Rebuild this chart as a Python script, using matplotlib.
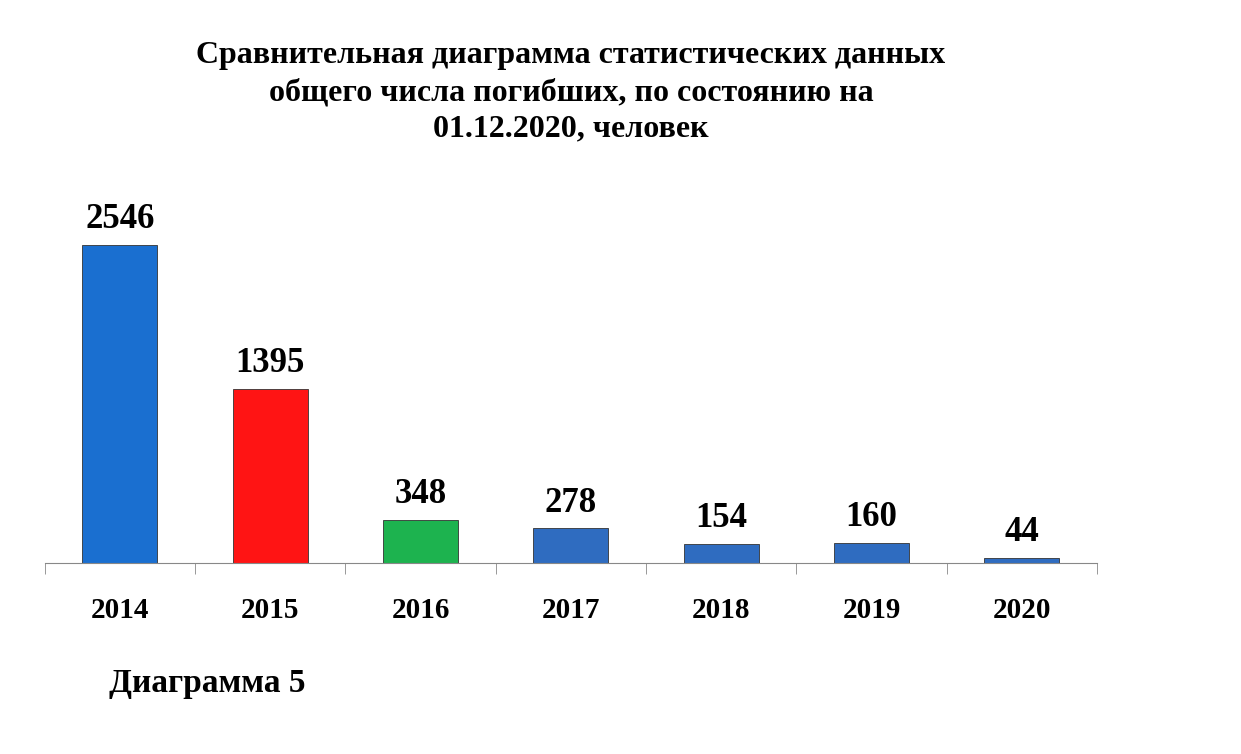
import matplotlib
matplotlib.use("Agg")
import matplotlib.pyplot as plt

# Данные диаграммы
years = ["2014", "2015", "2016", "2017", "2018", "2019", "2020"]
values = [2546, 1395, 348, 278, 154, 160, 44]
colors = ["#1a6fd0", "#ff1414", "#1db34f", "#2f6cc0", "#2f6cc0", "#2f6cc0", "#2f6cc0"]

plt.rcParams['font.family'] = ['Liberation Serif', 'DejaVu Serif']
plt.rcParams['font.weight'] = 'bold'

fig = plt.figure(figsize=(12.41, 7.54), dpi=100)
ax = fig.add_axes([0.036, 0.253, 0.848, 0.422])

x = list(range(len(years)))
ax.bar(x, values, width=0.5, color=colors, edgecolor="#333333", linewidth=0.6)

for xi, v in zip(x, values):
    ax.text(xi, v + 70, str(v), ha='center', va='bottom', fontsize=25,
            fontweight='bold', clip_on=False)

ax.set_xlim(-0.5, len(years) - 0.5)
ax.set_ylim(0, 2546)
ax.set_yticks([])
for s in ['top', 'right', 'left']:
    ax.spines[s].set_visible(False)
ax.spines['bottom'].set_color('#888888')

# подписи годов без засечек, засечки между категориями
ax.set_xticks(x)
ax.set_xticklabels(years, fontsize=21, fontweight='bold')
ax.tick_params(axis='x', length=0, pad=24)
ax.set_xticks([i - 0.5 for i in range(len(years) + 1)], minor=True)
ax.tick_params(axis='x', which='minor', length=8, color='#888888', direction='out')

fig.text(0.460, 0.945,
         "Сравнительная диаграмма статистических данных\n"
         "общего числа погибших, по состоянию на\n"
         "01.12.2020, человек",
         ha='center', va='top', fontsize=23, fontweight='bold', linespacing=1.35)

fig.text(0.088, 0.093, "Диаграмма 5", ha='left', va='center', fontsize=24,
         fontweight='bold')

fig.savefig("out.png", dpi=100, facecolor='white')
